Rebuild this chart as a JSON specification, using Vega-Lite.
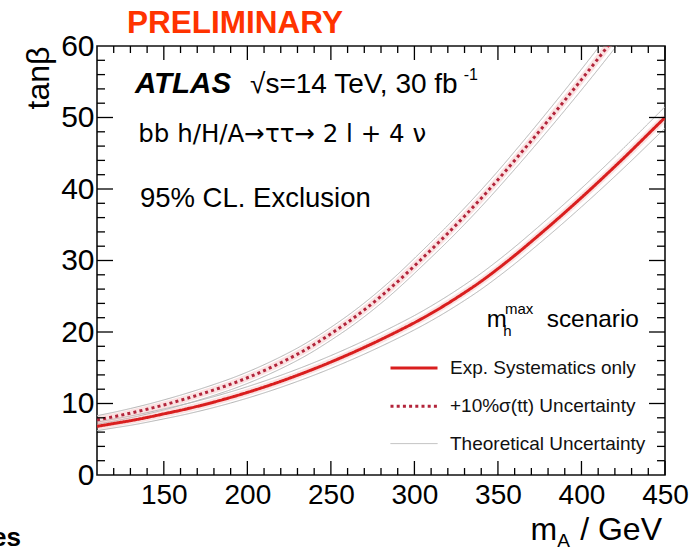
{
  "$schema": "https://vega.github.io/schema/vega-lite/v6.json",
  "autosize": {"type": "none"},
  "width": 568,
  "height": 429,
  "padding": {"left": 97, "top": 46, "right": 28, "bottom": 73},
  "background": "white",
  "config": {
    "font": "Liberation Sans",
    "view": {"stroke": "#111", "strokeWidth": 1.6},
    "axis": {"grid": false, "domain": false, "ticks": false, "labelColor": "#000", "labelFlush": false, "labelOverlap": false},
    "tick": {"color": "#000", "opacity": 1, "thickness": 1.3},
    "legend": {
      "orient": "none",
      "legendX": 292,
      "legendY": 297,
      "padding": 0,
      "symbolType": "stroke",
      "symbolSize": 2209,
      "labelFontSize": 19,
      "labelColor": "#111",
      "labelOffset": 11,
      "labelLimit": 400,
      "rowPadding": 3.3
    }
  },
  "datasets": {
    "limits": [
      {"mA": 110, "exp": 6.8, "exp_lo": 6.2, "exp_hi": 7.4, "xs": 7.7, "xs_lo": 7.1, "xs_hi": 8.3},
      {"mA": 120, "exp": 7.2, "exp_lo": 6.58, "exp_hi": 7.82, "xs": 8.15, "xs_lo": 7.53, "xs_hi": 8.77},
      {"mA": 130, "exp": 7.6, "exp_lo": 6.95, "exp_hi": 8.25, "xs": 8.65, "xs_lo": 8.0, "xs_hi": 9.3},
      {"mA": 140, "exp": 8.05, "exp_lo": 7.38, "exp_hi": 8.72, "xs": 9.2, "xs_lo": 8.53, "xs_hi": 9.87},
      {"mA": 150, "exp": 8.55, "exp_lo": 7.85, "exp_hi": 9.25, "xs": 9.8, "xs_lo": 9.1, "xs_hi": 10.5},
      {"mA": 160, "exp": 9.05, "exp_lo": 8.33, "exp_hi": 9.77, "xs": 10.45, "xs_lo": 9.73, "xs_hi": 11.17},
      {"mA": 170, "exp": 9.6, "exp_lo": 8.86, "exp_hi": 10.34, "xs": 11.15, "xs_lo": 10.41, "xs_hi": 11.89},
      {"mA": 180, "exp": 10.2, "exp_lo": 9.44, "exp_hi": 10.96, "xs": 11.9, "xs_lo": 11.14, "xs_hi": 12.66},
      {"mA": 190, "exp": 10.85, "exp_lo": 10.07, "exp_hi": 11.63, "xs": 12.7, "xs_lo": 11.92, "xs_hi": 13.48},
      {"mA": 200, "exp": 11.55, "exp_lo": 10.75, "exp_hi": 12.35, "xs": 13.6, "xs_lo": 12.8, "xs_hi": 14.4},
      {"mA": 210, "exp": 12.3, "exp_lo": 11.48, "exp_hi": 13.12, "xs": 14.6, "xs_lo": 13.78, "xs_hi": 15.42},
      {"mA": 220, "exp": 13.1, "exp_lo": 12.26, "exp_hi": 13.94, "xs": 15.7, "xs_lo": 14.86, "xs_hi": 16.54},
      {"mA": 230, "exp": 13.95, "exp_lo": 13.09, "exp_hi": 14.81, "xs": 16.9, "xs_lo": 16.04, "xs_hi": 17.76},
      {"mA": 240, "exp": 14.85, "exp_lo": 13.97, "exp_hi": 15.73, "xs": 18.25, "xs_lo": 17.37, "xs_hi": 19.13},
      {"mA": 250, "exp": 15.8, "exp_lo": 14.9, "exp_hi": 16.7, "xs": 19.75, "xs_lo": 18.85, "xs_hi": 20.65},
      {"mA": 260, "exp": 16.8, "exp_lo": 15.88, "exp_hi": 17.72, "xs": 21.35, "xs_lo": 20.42, "xs_hi": 22.28},
      {"mA": 270, "exp": 17.85, "exp_lo": 16.91, "exp_hi": 18.79, "xs": 23.1, "xs_lo": 22.14, "xs_hi": 24.06},
      {"mA": 280, "exp": 18.95, "exp_lo": 17.99, "exp_hi": 19.91, "xs": 25.0, "xs_lo": 24.01, "xs_hi": 25.99},
      {"mA": 290, "exp": 20.1, "exp_lo": 19.12, "exp_hi": 21.08, "xs": 27.05, "xs_lo": 26.03, "xs_hi": 28.07},
      {"mA": 300, "exp": 21.3, "exp_lo": 20.3, "exp_hi": 22.3, "xs": 29.25, "xs_lo": 28.2, "xs_hi": 30.3},
      {"mA": 310, "exp": 22.6, "exp_lo": 21.57, "exp_hi": 23.63, "xs": 31.5, "xs_lo": 30.42, "xs_hi": 32.58},
      {"mA": 320, "exp": 24.0, "exp_lo": 22.94, "exp_hi": 25.06, "xs": 33.8, "xs_lo": 32.69, "xs_hi": 34.91},
      {"mA": 330, "exp": 25.5, "exp_lo": 24.41, "exp_hi": 26.59, "xs": 36.2, "xs_lo": 35.06, "xs_hi": 37.34},
      {"mA": 340, "exp": 27.1, "exp_lo": 25.98, "exp_hi": 28.22, "xs": 38.7, "xs_lo": 37.53, "xs_hi": 39.87},
      {"mA": 350, "exp": 28.85, "exp_lo": 27.7, "exp_hi": 30.0, "xs": 41.3, "xs_lo": 40.1, "xs_hi": 42.5},
      {"mA": 360, "exp": 30.7, "exp_lo": 29.52, "exp_hi": 31.88, "xs": 44.0, "xs_lo": 42.75, "xs_hi": 45.25},
      {"mA": 370, "exp": 32.65, "exp_lo": 31.44, "exp_hi": 33.86, "xs": 46.75, "xs_lo": 45.45, "xs_hi": 48.05},
      {"mA": 380, "exp": 34.65, "exp_lo": 33.41, "exp_hi": 35.89, "xs": 49.55, "xs_lo": 48.2, "xs_hi": 50.9},
      {"mA": 390, "exp": 36.7, "exp_lo": 35.43, "exp_hi": 37.97, "xs": 52.4, "xs_lo": 51.0, "xs_hi": 53.8},
      {"mA": 400, "exp": 38.8, "exp_lo": 37.5, "exp_hi": 40.1, "xs": 55.3, "xs_lo": 53.85, "xs_hi": 56.75},
      {"mA": 410, "exp": 40.95, "exp_lo": 39.61, "exp_hi": 42.29, "xs": 58.25, "xs_lo": 56.75, "xs_hi": 59.75},
      {"mA": 420, "exp": 43.15, "exp_lo": 41.77, "exp_hi": 44.53, "xs": 61.25, "xs_lo": 59.7, "xs_hi": 62.8},
      {"mA": 430, "exp": 45.4, "exp_lo": 43.98, "exp_hi": 46.82, "xs": 64.3, "xs_lo": 62.7, "xs_hi": 65.9},
      {"mA": 440, "exp": 47.7, "exp_lo": 46.24, "exp_hi": 49.16},
      {"mA": 450, "exp": 50.0, "exp_lo": 48.5, "exp_hi": 51.5}
    ],
    "names": [
      {"curve": "exp", "series": "Exp. Systematics only"},
      {"curve": "xs", "series": "+10%σ(tt) Uncertainty"},
      {"curve": "exp_lo", "series": "Theoretical Uncertainty"},
      {"curve": "exp_hi", "series": "Theoretical Uncertainty"},
      {"curve": "xs_lo", "series": "Theoretical Uncertainty"},
      {"curve": "xs_hi", "series": "Theoretical Uncertainty"}
    ],
    "xmajor": [{"mA": 150}, {"mA": 200}, {"mA": 250}, {"mA": 300}, {"mA": 350}, {"mA": 400}, {"mA": 450}],
    "xminor": [{"mA": 120}, {"mA": 130}, {"mA": 140}, {"mA": 160}, {"mA": 170}, {"mA": 180}, {"mA": 190}, {"mA": 210}, {"mA": 220}, {"mA": 230}, {"mA": 240}, {"mA": 260}, {"mA": 270}, {"mA": 280}, {"mA": 290}, {"mA": 310}, {"mA": 320}, {"mA": 330}, {"mA": 340}, {"mA": 360}, {"mA": 370}, {"mA": 380}, {"mA": 390}, {"mA": 410}, {"mA": 420}, {"mA": 430}, {"mA": 440}],
    "ymajor": [{"tanb": 10}, {"tanb": 20}, {"tanb": 30}, {"tanb": 40}, {"tanb": 50}],
    "yminor": [{"tanb": 2}, {"tanb": 4}, {"tanb": 6}, {"tanb": 8}, {"tanb": 12}, {"tanb": 14}, {"tanb": 16}, {"tanb": 18}, {"tanb": 22}, {"tanb": 24}, {"tanb": 26}, {"tanb": 28}, {"tanb": 32}, {"tanb": 34}, {"tanb": 36}, {"tanb": 38}, {"tanb": 42}, {"tanb": 44}, {"tanb": 46}, {"tanb": 48}, {"tanb": 52}, {"tanb": 54}, {"tanb": 56}, {"tanb": 58}]
  },
  "resolve": {"axis": {"x": "independent", "y": "independent"}},
  "layer": [
    {
      "data": {"name": "limits"},
      "transform": [
        {"fold": ["exp_lo", "exp_hi", "xs_lo", "xs_hi"], "as": ["curve", "tanb"]},
        {"lookup": "curve", "from": {"data": {"name": "names"}, "key": "curve", "fields": ["series"]}}
      ],
      "mark": {"type": "line", "clip": true, "interpolate": "natural"},
      "encoding": {
        "x": {
          "field": "mA", "type": "quantitative",
          "scale": {"domain": [110, 450], "nice": false, "zero": false},
          "axis": {
            "orient": "bottom", "title": null,
            "values": [150, 200, 250, 300, 350, 400, 450],
            "labelPadding": 6, "labelFontSize": 28
          }
        },
        "y": {
          "field": "tanb", "type": "quantitative",
          "scale": {"domain": [0, 60], "nice": false, "zero": false},
          "axis": {
            "orient": "left", "title": "tanβ",
            "values": [0, 10, 20, 30, 40, 50, 60],
            "labelPadding": 3, "labelFontSize": 30,
            "titleFontSize": 32, "titleFontWeight": "normal", "titleColor": "#000",
            "titleAngle": 270, "titleAnchor": "end", "titlePadding": 5
          }
        },
        "detail": {"field": "curve"},
        "color": {
          "field": "series", "type": "nominal", "title": null,
          "scale": {"domain": ["Exp. Systematics only", "+10%σ(tt) Uncertainty", "Theoretical Uncertainty"], "range": ["#d91e1e", "#b3243a", "#b4b4b4"]}
        },
        "strokeDash": {
          "field": "series", "type": "nominal", "title": null,
          "scale": {"domain": ["Exp. Systematics only", "+10%σ(tt) Uncertainty", "Theoretical Uncertainty"], "range": [[1, 0], [3, 3.2], [1, 0]]}
        },
        "strokeWidth": {
          "field": "series", "type": "nominal", "title": null,
          "scale": {"type": "ordinal", "domain": ["Exp. Systematics only", "+10%σ(tt) Uncertainty", "Theoretical Uncertainty"], "range": [3, 3, 1]}
        }
      }
    },
    {
      "data": {"name": "limits"},
      "transform": [{"fold": ["exp", "xs"], "as": ["curve", "tanb"]}],
      "mark": {"type": "line", "clip": true, "interpolate": "natural", "color": "#f0a0a0", "opacity": 0.3, "strokeWidth": 7},
      "encoding": {
        "x": {"field": "mA", "type": "quantitative", "axis": null},
        "y": {"field": "tanb", "type": "quantitative", "axis": null},
        "detail": {"field": "curve"}
      }
    },
    {
      "data": {"name": "limits"},
      "transform": [
        {"fold": ["exp", "xs"], "as": ["curve", "tanb"]},
        {"lookup": "curve", "from": {"data": {"name": "names"}, "key": "curve", "fields": ["series"]}}
      ],
      "mark": {"type": "line", "clip": true, "interpolate": "natural"},
      "encoding": {
        "x": {"field": "mA", "type": "quantitative", "axis": null},
        "y": {"field": "tanb", "type": "quantitative", "axis": null},
        "detail": {"field": "curve"},
        "color": {
          "field": "series", "type": "nominal", "title": null,
          "scale": {"domain": ["Exp. Systematics only", "+10%σ(tt) Uncertainty", "Theoretical Uncertainty"], "range": ["#d91e1e", "#b3243a", "#b4b4b4"]}
        },
        "strokeDash": {
          "field": "series", "type": "nominal", "title": null,
          "scale": {"domain": ["Exp. Systematics only", "+10%σ(tt) Uncertainty", "Theoretical Uncertainty"], "range": [[1, 0], [3, 3.2], [1, 0]]}
        },
        "strokeWidth": {
          "field": "series", "type": "nominal", "title": null,
          "scale": {"type": "ordinal", "domain": ["Exp. Systematics only", "+10%σ(tt) Uncertainty", "Theoretical Uncertainty"], "range": [3, 3, 1]}
        }
      }
    },
    {
      "data": {"name": "xmajor"},
      "mark": {"type": "tick", "orient": "vertical", "size": 14},
      "encoding": {"x": {"field": "mA", "type": "quantitative", "axis": null}, "y": {"datum": 0.98, "type": "quantitative", "axis": null}}
    },
    {
      "data": {"name": "xmajor"},
      "mark": {"type": "tick", "orient": "vertical", "size": 14},
      "encoding": {"x": {"field": "mA", "type": "quantitative", "axis": null}, "y": {"datum": 59.02, "type": "quantitative", "axis": null}}
    },
    {
      "data": {"name": "xminor"},
      "mark": {"type": "tick", "orient": "vertical", "size": 7},
      "encoding": {"x": {"field": "mA", "type": "quantitative", "axis": null}, "y": {"datum": 0.49, "type": "quantitative", "axis": null}}
    },
    {
      "data": {"name": "xminor"},
      "mark": {"type": "tick", "orient": "vertical", "size": 7},
      "encoding": {"x": {"field": "mA", "type": "quantitative", "axis": null}, "y": {"datum": 59.51, "type": "quantitative", "axis": null}}
    },
    {
      "data": {"name": "ymajor"},
      "mark": {"type": "tick", "orient": "horizontal", "size": 16},
      "encoding": {"y": {"field": "tanb", "type": "quantitative", "axis": null}, "x": {"datum": 114.79, "type": "quantitative", "axis": null}}
    },
    {
      "data": {"name": "ymajor"},
      "mark": {"type": "tick", "orient": "horizontal", "size": 16},
      "encoding": {"y": {"field": "tanb", "type": "quantitative", "axis": null}, "x": {"datum": 445.21, "type": "quantitative", "axis": null}}
    },
    {
      "data": {"name": "yminor"},
      "mark": {"type": "tick", "orient": "horizontal", "size": 8},
      "encoding": {"y": {"field": "tanb", "type": "quantitative", "axis": null}, "x": {"datum": 112.39, "type": "quantitative", "axis": null}}
    },
    {
      "data": {"name": "yminor"},
      "mark": {"type": "tick", "orient": "horizontal", "size": 8},
      "encoding": {"y": {"field": "tanb", "type": "quantitative", "axis": null}, "x": {"datum": 447.61, "type": "quantitative", "axis": null}}
    },
    {
      "data": {"values": [{}]},
      "mark": {"type": "text", "text": "PRELIMINARY", "fontSize": 31.5, "fontWeight": "bold", "color": "#ff3300", "align": "center", "baseline": "alphabetic"},
      "encoding": {"x": {"datum": 192.6, "type": "quantitative", "axis": null}, "y": {"datum": 61.8, "type": "quantitative", "axis": null}}
    },
    {
      "data": {"values": [{}]},
      "mark": {"type": "text", "text": "ATLAS", "fontSize": 29.5, "fontWeight": "bold", "fontStyle": "italic", "color": "#000", "align": "left", "baseline": "alphabetic"},
      "encoding": {"x": {"datum": 132.7, "type": "quantitative", "axis": null}, "y": {"datum": 53.4, "type": "quantitative", "axis": null}}
    },
    {
      "data": {"values": [{}]},
      "mark": {"type": "text", "text": "√s=14 TeV, 30 fb", "fontSize": 28, "color": "#000", "align": "left", "baseline": "alphabetic"},
      "encoding": {"x": {"datum": 201.6, "type": "quantitative", "axis": null}, "y": {"datum": 53.4, "type": "quantitative", "axis": null}}
    },
    {
      "data": {"values": [{}]},
      "mark": {"type": "text", "text": "-1", "fontSize": 16, "color": "#000", "align": "left", "baseline": "alphabetic"},
      "encoding": {"x": {"datum": 329.5, "type": "quantitative", "axis": null}, "y": {"datum": 55.3, "type": "quantitative", "axis": null}}
    },
    {
      "data": {"values": [{}]},
      "mark": {"type": "text", "text": "bb h/H/A→ττ→ 2 l + 4 ν", "font": "DejaVu Sans", "fontSize": 24.5, "color": "#000", "align": "left", "baseline": "alphabetic"},
      "encoding": {"x": {"datum": 134.7, "type": "quantitative", "axis": null}, "y": {"datum": 46.6, "type": "quantitative", "axis": null}}
    },
    {
      "data": {"values": [{}]},
      "mark": {"type": "text", "text": "95% CL. Exclusion", "fontSize": 27.5, "color": "#000", "align": "left", "baseline": "alphabetic"},
      "encoding": {"x": {"datum": 135.7, "type": "quantitative", "axis": null}, "y": {"datum": 37.5, "type": "quantitative", "axis": null}}
    },
    {
      "data": {"values": [{}]},
      "mark": {"type": "text", "text": "m", "fontSize": 24, "color": "#000", "align": "left", "baseline": "alphabetic"},
      "encoding": {"x": {"datum": 343.3, "type": "quantitative", "axis": null}, "y": {"datum": 20.74, "type": "quantitative", "axis": null}}
    },
    {
      "data": {"values": [{}]},
      "mark": {"type": "text", "text": "h", "fontSize": 15, "color": "#000", "align": "left", "baseline": "alphabetic"},
      "encoding": {"x": {"datum": 353.2, "type": "quantitative", "axis": null}, "y": {"datum": 19.5, "type": "quantitative", "axis": null}}
    },
    {
      "data": {"values": [{}]},
      "mark": {"type": "text", "text": "max", "fontSize": 15, "color": "#000", "align": "left", "baseline": "alphabetic"},
      "encoding": {"x": {"datum": 354.2, "type": "quantitative", "axis": null}, "y": {"datum": 22.5, "type": "quantitative", "axis": null}}
    },
    {
      "data": {"values": [{}]},
      "mark": {"type": "text", "text": "scenario", "fontSize": 24.4, "color": "#000", "align": "left", "baseline": "alphabetic"},
      "encoding": {"x": {"datum": 379.2, "type": "quantitative", "axis": null}, "y": {"datum": 20.74, "type": "quantitative", "axis": null}}
    },
    {
      "data": {"values": [{}]},
      "mark": {"type": "text", "text": "m", "fontSize": 32, "color": "#000", "align": "left", "baseline": "alphabetic"},
      "encoding": {"x": {"datum": 369.5, "type": "quantitative", "axis": null}, "y": {"datum": -9.09, "type": "quantitative", "axis": null}}
    },
    {
      "data": {"values": [{}]},
      "mark": {"type": "text", "text": "A", "fontSize": 19, "color": "#000", "align": "left", "baseline": "alphabetic"},
      "encoding": {"x": {"datum": 385.5, "type": "quantitative", "axis": null}, "y": {"datum": -10.07, "type": "quantitative", "axis": null}}
    },
    {
      "data": {"values": [{}]},
      "mark": {"type": "text", "text": "/ GeV", "fontSize": 32, "color": "#000", "align": "right", "baseline": "alphabetic"},
      "encoding": {"x": {"datum": 448.2, "type": "quantitative", "axis": null}, "y": {"datum": -9.09, "type": "quantitative", "axis": null}}
    },
    {
      "data": {"values": [{}]},
      "mark": {"type": "text", "text": "es", "fontSize": 26, "fontWeight": "bold", "color": "#000", "align": "right", "baseline": "alphabetic"},
      "encoding": {"x": {"datum": 64.5, "type": "quantitative", "axis": null}, "y": {"datum": -9.93, "type": "quantitative", "axis": null}}
    }
  ]
}
